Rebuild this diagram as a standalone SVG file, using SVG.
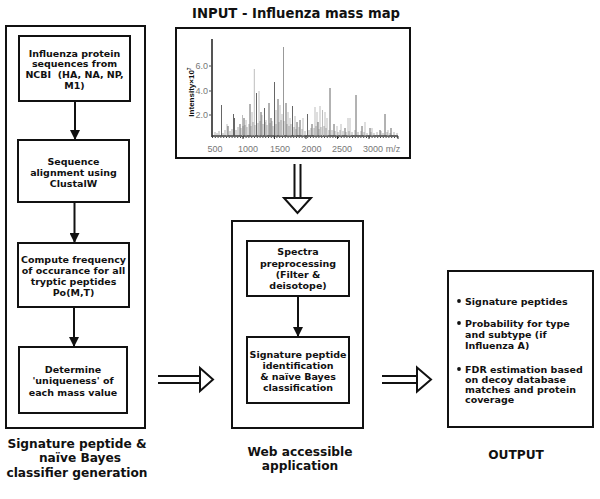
<svg xmlns="http://www.w3.org/2000/svg" width="600" height="499" viewBox="0 0 600 499">
<style>
.box{fill:#fff;stroke:#111;stroke-width:2}
.t{font-family:"DejaVu Sans","Verdana",sans-serif;font-weight:bold;font-size:9.5px;fill:#111;text-anchor:middle}
.cap{font-family:"DejaVu Sans","Verdana",sans-serif;font-weight:bold;font-size:12.2px;fill:#111;text-anchor:middle}
.ol{font-family:"DejaVu Sans","Verdana",sans-serif;font-weight:bold;font-size:9.5px;fill:#111}
.ax{font-family:"Liberation Sans",Arial,sans-serif;font-size:9px;fill:#777}
.conn{stroke:#111;stroke-width:2;fill:none}
.dbl{stroke:#111;stroke-width:2;fill:none}
.dhead{stroke:#111;stroke-width:2;fill:#fff;stroke-linejoin:miter}
</style>
<defs>
<marker id="ah" markerUnits="userSpaceOnUse" markerWidth="10" markerHeight="10" refX="10" refY="5" orient="auto">
<path d="M0,0 L10,5 L0,10 z" fill="#111"/>
</marker>
</defs>
<rect width="600" height="499" fill="#fff"/>

<g id="left-panel">
<rect class="box" x="6" y="26" width="139" height="402"/>
<text class="cap" x="77" y="447.5">Signature peptide &amp;</text>
<text class="cap" x="80" y="462">naïve Bayes</text>
<text class="cap" x="77" y="476.5">classifier generation</text>
</g>
<g id="n1">
<rect class="box" x="19" y="36" width="111" height="65"/>
<text class="t" x="74.5" y="56.5">Influenza protein</text>
<text class="t" x="74.5" y="67">sequences from</text>
<text class="t" x="74.5" y="77.5" xml:space="preserve">NCBI  (HA, NA, NP,</text>
<text class="t" x="74.5" y="88.5">M1)</text>
</g>
<g id="n2">
<rect class="box" x="18" y="140" width="111" height="62"/>
<text class="t" x="73.5" y="164.5">Sequence</text>
<text class="t" x="73.5" y="176">alignment using</text>
<text class="t" x="73.5" y="187">ClustalW</text>
</g>
<g id="n3">
<rect class="box" x="18" y="243" width="111" height="64"/>
<text class="t" x="73.5" y="262.5">Compute frequency</text>
<text class="t" x="73.5" y="274">of occurance for all</text>
<text class="t" x="73.5" y="285">tryptic peptides</text>
<text class="t" x="73.5" y="296">Po(M,T)</text>
</g>
<g id="n4">
<rect class="box" x="19" y="347" width="108" height="66"/>
<text class="t" x="73" y="373">Determine</text>
<text class="t" x="73" y="384">'uniqueness' of</text>
<text class="t" x="73" y="395.5">each mass value</text>
</g>

<g id="input">
<text class="cap" x="296" y="17.5" style="font-size:13.2px">INPUT - Influenza mass map</text>
<rect class="box" x="176" y="28" width="234" height="130"/>
<g id="spectrum">
<path d="M212 39V137" stroke="#555" stroke-width="2"/>
<path d="M212 136H398" stroke="#333" stroke-width="1.3"/>
<path d="M212 137.5H398" stroke="#444" stroke-width="1" stroke-dasharray="1 1.8"/>
<path d="M243 136v3M274.5 136v3M306 136v3M337.5 136v3M369 136v3M398 136v3" stroke="#333" stroke-width="1"/>
<path d="M209 66h3M209 91h3M209 115h3" stroke="#555" stroke-width="1"/>
<path stroke="#b5b5b5" stroke-width="0.9" d="M254.3 136V69M259 136V91M242.5 136V115M246 136V120M252 136V112M262 136V115M266 136V120M276 136V110M280 136V105M282 136V114M288 136V112M290 136V118M295 136V116M303 136V118M315 136V107M317 136V112M320 136V106M322.5 136V110M325 136V112M327 136V118M337 136V126M341 136V124M348 136V118M350 136V118M365 136V122M372 136V128M388 136V130M227 136V124"/>
<path stroke="#555" stroke-width="0.9" d="M221.5 136V105M233.5 136V114M234.5 136V118M250 136V104M256.5 136V93M264.5 136V108M269 136V103M274.5 136V82M278 136V99M286 136V103M292.5 136V106M307.5 136V114M330 136V88M356 136V95M385 136V114M300 136V120M240 136V124M228 136V126M244 136V118M261 136V112M271 136V118M297 136V122M312 136V124M318 136V122M334 136V124M345 136V128M362 136V126M370 136V128M380 136V130M391 136V128"/>
<path stroke="#999" stroke-width="1" d="M283.5 136V47"/>
<path stroke="#777" stroke-width="0.6" d="M215 136V132M217 136V133M219 136V131M223 136V133M225 136V130M230 136V131M232 136V129M236 136V130M238 136V127M241 136V128M243 136V126M245 136V125M247 136V127M249 136V124M251 136V126M253 136V122M255 136V125M258 136V123M260 136V121M263 136V124M265 136V122M267 136V125M270 136V123M272 136V121M273 136V126M276 136V124M279 136V122M281 136V120M284 136V121M287 136V124M289 136V126M291 136V124M294 136V127M296 136V129M299 136V127M302 136V129M305 136V131M309 136V130M311 136V128M314 136V128M316 136V126M319 136V129M321 136V127M324 136V126M326 136V128M329 136V130M332 136V130M335 136V131M338 136V132M340 136V130M343 136V131M346 136V132M349 136V131M352 136V132M355 136V130M358 136V132M361 136V131M364 136V132M367 136V133M371 136V132M374 136V133M377 136V132M381 136V131M383 136V133M387 136V132M390 136V133M394 136V132M397 136V133"/>
<text class="ax" x="208" y="69" text-anchor="end">6.0</text>
<text class="ax" x="208" y="94" text-anchor="end">4.0</text>
<text class="ax" x="208" y="118" text-anchor="end">2.0</text>
<text class="ax" x="215" y="152" text-anchor="middle">500</text>
<text class="ax" x="248" y="152" text-anchor="middle">1000</text>
<text class="ax" x="280" y="152" text-anchor="middle">1500</text>
<text class="ax" x="311.5" y="152" text-anchor="middle">2000</text>
<text class="ax" x="342" y="152" text-anchor="middle">2500</text>
<text class="ax" x="373" y="152" text-anchor="middle">3000</text>
<text class="ax" x="393" y="152" text-anchor="middle">m/z</text>
<text transform="translate(194,92) rotate(-90)" text-anchor="middle" style="font-family:'Liberation Sans',Arial,sans-serif;font-weight:bold;font-size:8px;fill:#111">Intensity×10<tspan dy="-3" style="font-size:5px">7</tspan></text>
</g>
</g>

<g id="middle-panel">
<rect class="box" x="232" y="221" width="131" height="207"/>
<text class="cap" x="300" y="455.5">Web accessible</text>
<text class="cap" x="300" y="469.5">application</text>
</g>
<g id="n5">
<rect class="box" x="247" y="241" width="102" height="55"/>
<text class="t" x="298" y="255">Spectra</text>
<text class="t" x="298" y="267">preprocessing</text>
<text class="t" x="298" y="278">(Filter &amp;</text>
<text class="t" x="298" y="289">deisotope)</text>
</g>
<g id="n6">
<rect class="box" x="247" y="337" width="102" height="66"/>
<text class="t" x="298" y="357.5">Signature peptide</text>
<text class="t" x="298" y="368.5">identification</text>
<text class="t" x="298" y="380">&amp; naïve Bayes</text>
<text class="t" x="298" y="391">classification</text>
</g>

<g id="output">
<rect class="box" x="448" y="271" width="145" height="156"/>
<circle cx="459" cy="301" r="1.9" fill="#111"/>
<circle cx="459" cy="323" r="1.9" fill="#111"/>
<circle cx="459" cy="369" r="1.9" fill="#111"/>
<text class="ol" x="465" y="304.5">Signature peptides</text>
<text class="ol" x="465" y="326.5">Probability for type</text>
<text class="ol" x="465" y="337.5">and subtype (if</text>
<text class="ol" x="465" y="348.5">Influenza A)</text>
<text class="ol" x="465" y="372.5">FDR estimation based</text>
<text class="ol" x="465" y="382.5">on decoy database</text>
<text class="ol" x="465" y="392.5">matches and protein</text>
<text class="ol" x="465" y="402.5">coverage</text>
<text class="cap" x="516" y="458.5">OUTPUT</text>
</g>

<g id="connectors">
<path class="conn" d="M75 101V140" marker-end="url(#ah)"/>
<path class="conn" d="M74.5 202V243" marker-end="url(#ah)"/>
<path class="conn" d="M74 307V347" marker-end="url(#ah)"/>
<path class="conn" d="M298 296V337" marker-end="url(#ah)"/>
<path class="dbl" d="M294.5 164V199M300.5 164V199"/>
<path class="dhead" d="M284 198H311L297.5 213Z"/>
<path class="dbl" d="M158 376H201M158 383H201"/>
<path class="dhead" d="M200 368L213 379.5L200 391Z"/>
<path class="dbl" d="M382 376H418M382 383H418"/>
<path class="dhead" d="M417 367.5L431 379.5L417 391.5Z"/>
</g>
</svg>
